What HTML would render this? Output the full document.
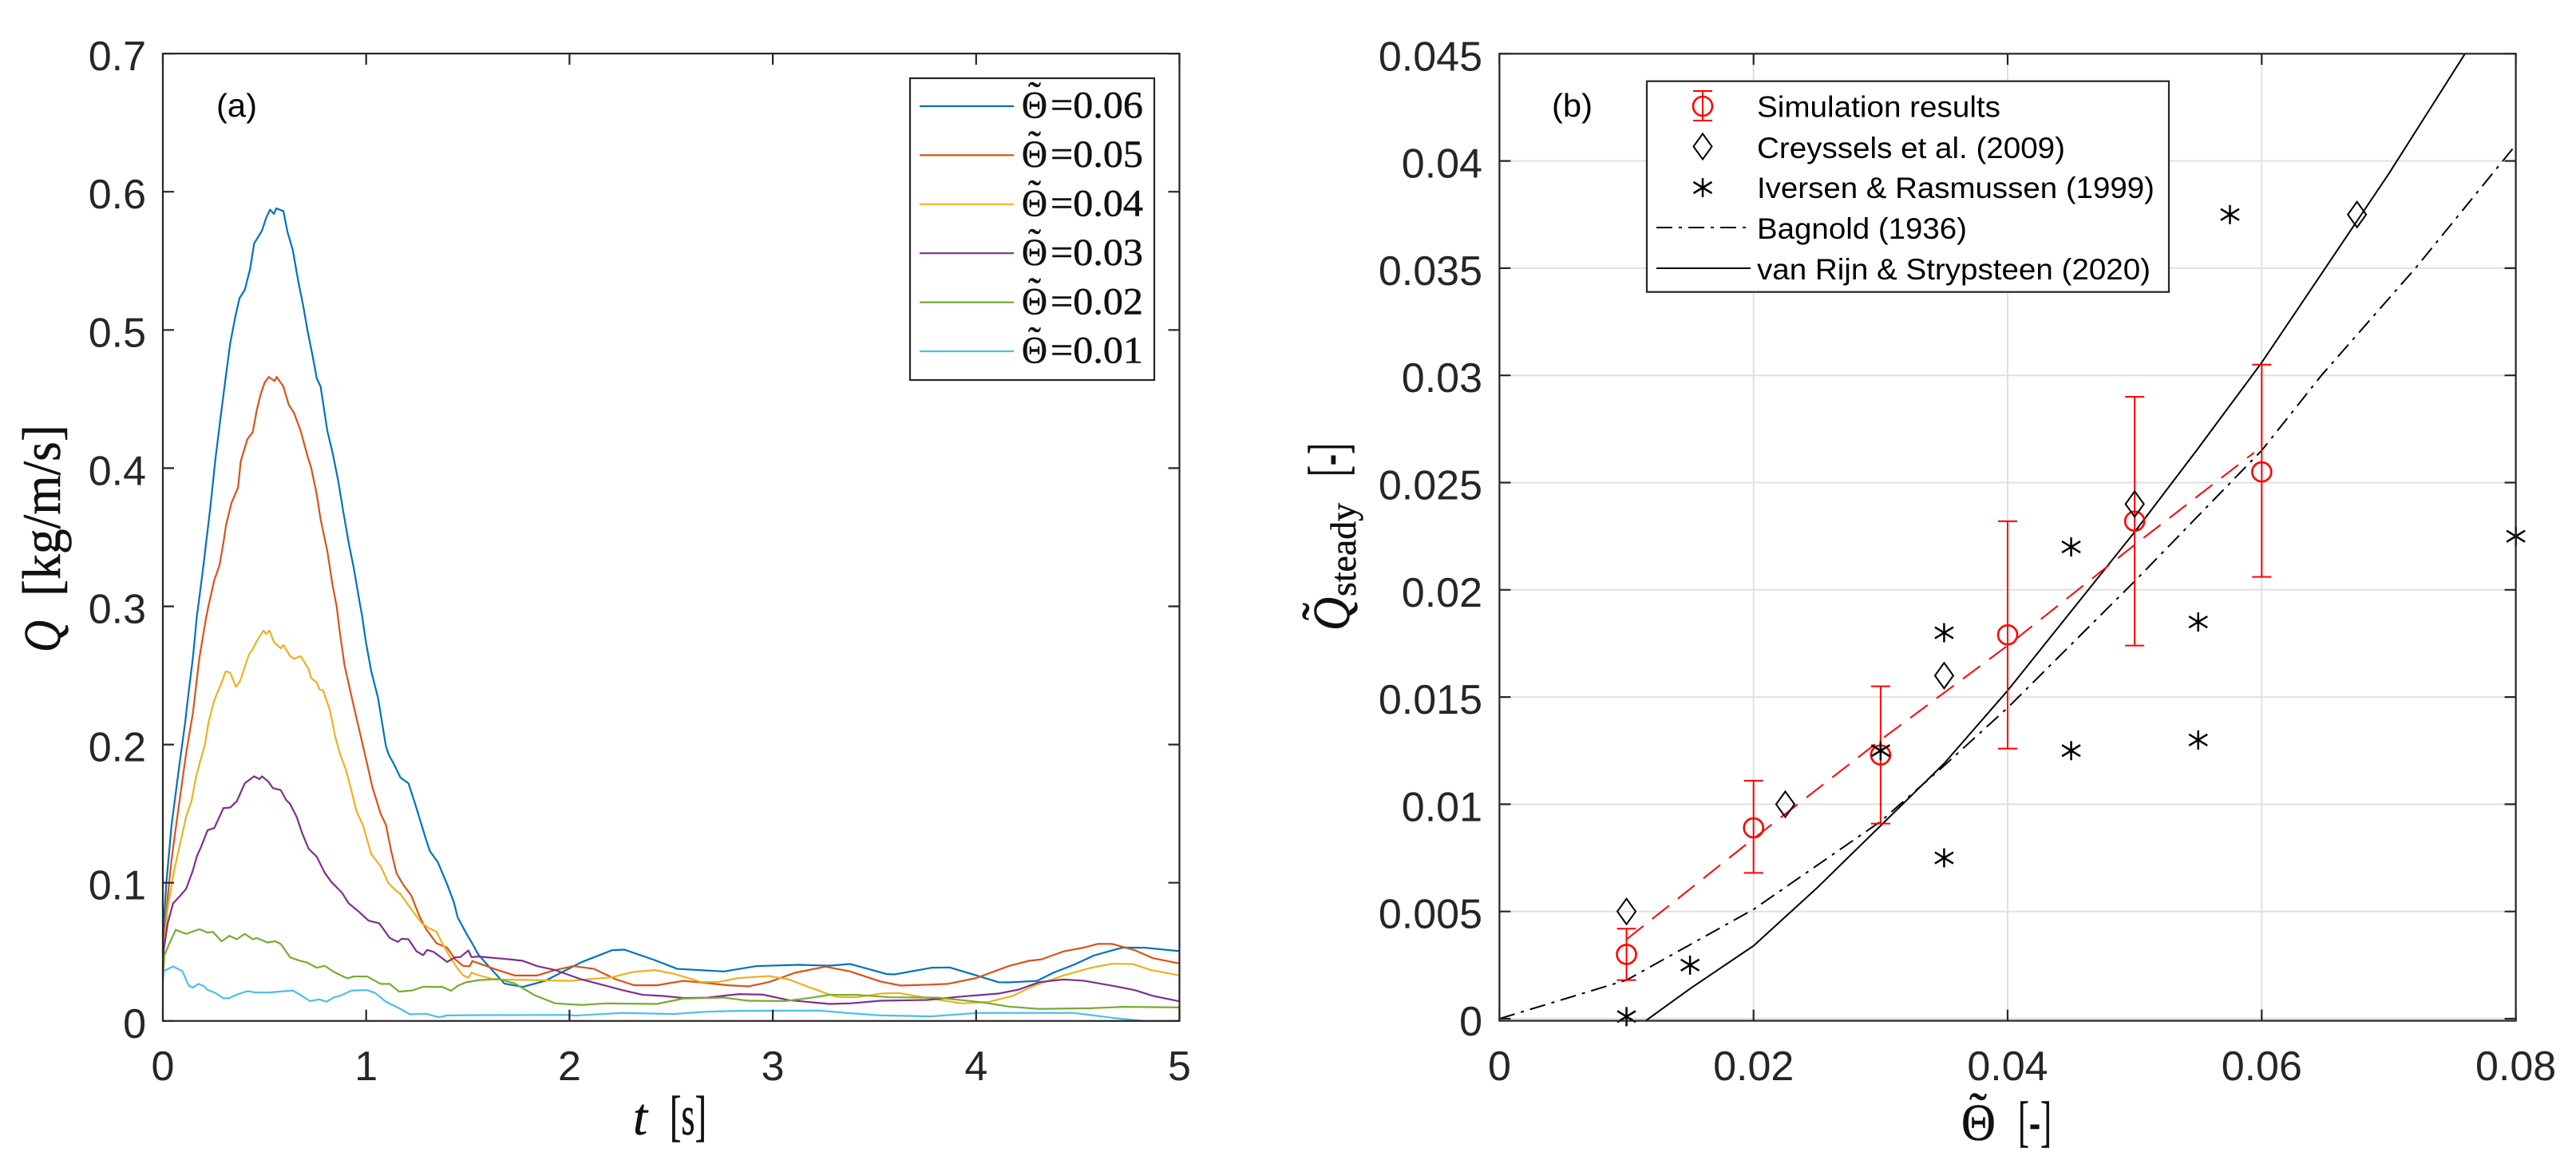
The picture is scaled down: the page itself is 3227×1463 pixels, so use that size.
<!DOCTYPE html>
<html>
<head>
<meta charset="utf-8">
<title>Sediment flux charts</title>
<style>
html,body{margin:0;padding:0;background:#fff;}
svg{display:block;}
text{fill:#262626;font-family:"Liberation Sans",sans-serif;}
.serif{font-family:"Liberation Serif",serif;fill:#111;stroke:#111;stroke-width:0.5px;}
.leg{font-size:37px;fill:#000;}
.tick{font-size:52px;}
</style>
</head>
<body>
<svg id="figure" xmlns="http://www.w3.org/2000/svg" width="3227" height="1463" viewBox="0 0 3227 1463">
  <g id="panel-a"></g>
  <g id="panel-b"></g>

  <text x="271" y="146" font-size="41" style="fill:#000" textLength="51" lengthAdjust="spacingAndGlyphs">(a)</text>
  <text x="1944" y="146" font-size="41" style="fill:#000" textLength="51" lengthAdjust="spacingAndGlyphs">(b)</text>

  <text class="serif" x="793" y="1421" font-size="66" font-style="italic" textLength="18" lengthAdjust="spacingAndGlyphs">t</text>
  <text class="serif" x="839" y="1421" font-size="70" textLength="46" lengthAdjust="spacingAndGlyphs">[s]</text>
  <text class="serif" transform="translate(75,817) rotate(-90)" font-size="66" font-style="italic" textLength="40" lengthAdjust="spacingAndGlyphs">Q</text>
  <text class="serif" transform="translate(75,747) rotate(-90)" font-size="68" textLength="215" lengthAdjust="spacingAndGlyphs">[kg/m/s]</text>

  <text class="serif" x="2457" y="1428" font-size="66" textLength="43" lengthAdjust="spacingAndGlyphs">Θ</text>
  <text class="serif" x="2467" y="1414" font-size="66">˜</text>
  <text class="serif" x="2528" y="1428" font-size="70" textLength="42" lengthAdjust="spacingAndGlyphs">[-]</text>
  <text class="serif" transform="translate(1690,790) rotate(-90)" font-size="66" font-style="italic" textLength="42" lengthAdjust="spacingAndGlyphs">Q</text>
  <text class="serif" transform="translate(1676,777) rotate(-90)" font-size="66">˜</text>
  <text class="serif" transform="translate(1698,747) rotate(-90)" font-size="45" textLength="117" lengthAdjust="spacingAndGlyphs">steady</text>
  <text class="serif" transform="translate(1687,597) rotate(-90)" font-size="70" textLength="42" lengthAdjust="spacingAndGlyphs">[-]</text>
</svg>

<script>
// ---------- Panel (a) data ----------
const tickTimes = [0, 1, 2, 3, 4, 5];
const tickTimeLabels = ['0', '1', '2', '3', '4', '5'];
const tickFlux = [0, 0.1, 0.2, 0.3, 0.4, 0.5, 0.6, 0.7];
const tickFluxLabels = ['0', '0.1', '0.2', '0.3', '0.4', '0.5', '0.6', '0.7'];
const seriesLabels = ['=0.06', '=0.05', '=0.04', '=0.03', '=0.02', '=0.01'];

const t06 = [0,.017,.043,.082,.109,.122,.148,.168,.174,.2,.233,.259,.285,.312,.331,.357,.377,.403,.429,.449,.488,.508,.527,.547,.558,.593,.613,.639,.665,.691,.711,.737,.757,.776,.809,.835,.861,.887,.914,.94,.969,.979,.999,1.025,1.058,1.097,1.11,1.136,1.169,1.208,1.241,1.293,1.313,1.352,1.398,1.431,1.45,1.49,1.522,1.552,1.6,1.68,1.77,1.88,2.06,2.21,2.27,2.41,2.53,2.76,2.92,3.13,3.28,3.38,3.56,3.6,3.78,3.87,4.0,4.11,4.16,4.30,4.38,4.48,4.58,4.72,4.83,5.0];
const q06 = [.06,.0995,.142,.186,.215,.232,.263,.294,.300,.33,.371,.407,.438,.469,.49,.51,.523,.529,.544,.5625,.572,.581,.587,.584,.588,.586,.571,.558,.536,.517,.5,.481,.465,.459,.427,.411,.392,.369,.346,.327,.302,.294,.274,.253,.234,.199,.193,.186,.176,.172,.157,.132,.123,.115,.099,.086,.075,.064,.056,.048,.04,.027,.0246,.029,.0426,.0512,.0516,.0445,.0377,.0358,.0397,.0406,.04,.0412,.0339,.0337,.0385,.0387,.033,.028,.0279,.029,.0349,.0406,.0474,.0531,.053,.0505];

const t05 = [0,.024,.043,.076,.115,.148,.18,.213,.224,.253,.279,.298,.311,.338,.37,.383,.416,.442,.462,.482,.501,.521,.55,.56,.593,.619,.645,.678,.711,.73,.757,.776,.809,.835,.855,.868,.894,.94,.986,1.031,1.071,1.097,1.123,1.149,1.182,1.221,1.26,1.293,1.346,1.398,1.437,1.476,1.509,1.522,1.552,1.63,1.73,1.84,1.93,2.02,2.12,2.23,2.32,2.43,2.56,2.63,2.78,2.88,2.98,3.11,3.26,3.38,3.53,3.63,3.76,3.86,4.0,4.16,4.26,4.32,4.43,4.53,4.6,4.67,4.78,4.87,5];
const q05 = [.0476,.09,.117,.153,.194,.223,.263,.292,.3,.319,.33,.346,.359,.375,.386,.405,.421,.426,.442,.454,.462,.466,.463,.466,.459,.446,.44,.427,.409,.4,.381,.363,.34,.315,.3,.284,.257,.227,.198,.169,.15,.142,.123,.107,.0986,.091,.0765,.0668,.0562,.053,.0447,.0399,.0395,.0433,.0418,.0377,.0329,.0329,.0368,.0397,.0377,.03,.0258,.0258,.029,.0281,.0258,.025,.0281,.0349,.0393,.0358,.0285,.0256,.0262,.0268,.031,.0397,.0435,.0445,.0503,.0531,.0558,.0557,.0512,.0454,.0416];

const t04 = [0,.024,.056,.082,.115,.141,.161,.18,.207,.226,.253,.292,.309,.331,.36,.38,.423,.442,.462,.495,.508,.524,.547,.58,.593,.626,.645,.678,.717,.73,.757,.77,.789,.822,.848,.874,.9,.927,.953,.986,1.025,1.071,1.11,1.143,1.169,1.215,1.274,1.306,1.346,1.378,1.411,1.45,1.476,1.503,1.518,1.552,1.63,1.78,2.0,2.21,2.31,2.42,2.52,2.65,2.73,2.83,2.98,3.08,3.18,3.31,3.41,3.53,3.62,3.76,3.93,4.06,4.18,4.28,4.43,4.56,4.67,4.77,4.86,5];
const q04 = [.042,.082,.109,.1265,.148,.159,.175,.186,.2,.217,.232,.246,.253,.252,.2417,.246,.265,.269,.275,.2825,.28,.2825,.274,.2696,.272,.264,.262,.264,.2546,.248,.245,.24,.239,.2247,.2055,.192,.182,.167,.1515,.141,.1207,.112,.0996,.0947,.0918,.0822,.0707,.0674,.0645,.0553,.0466,.0379,.0331,.0312,.035,.0331,.03,.0297,.029,.0316,.0354,.0368,.0339,.0281,.0281,.031,.0325,.03,.0243,.0175,.0171,.0198,.0202,.0166,.0127,.0137,.0181,.0252,.0329,.0383,.0414,.0412,.0368,.033];

const t03 = [0,.004,.024,.05,.082,.115,.148,.167,.187,.22,.253,.298,.331,.364,.403,.449,.475,.488,.52,.541,.58,.606,.626,.658,.685,.717,.757,.796,.829,.881,.914,.959,1.012,1.064,1.116,1.156,1.175,1.208,1.247,1.28,1.30,1.332,1.398,1.437,1.463,1.503,1.518,1.552,1.71,1.77,1.84,1.93,2.06,2.16,2.26,2.36,2.46,2.56,2.68,2.83,2.95,3.08,3.28,3.38,3.53,3.76,3.93,4.11,4.21,4.31,4.43,4.53,4.68,4.78,4.87,5];
const q03 = [.034,.051,.0707,.085,.09,.0957,.109,.119,.1256,.138,.1396,.154,.1544,.159,.172,.177,.175,.177,.173,.1685,.167,.16,.157,.1477,.136,.1246,.1188,.1073,.1005,.0928,.0851,.0797,.0726,.0707,.06,.0572,.0595,.0591,.0505,.0476,.0514,.0499,.0427,.046,.0462,.051,.0462,.0466,.0445,.0435,.0397,.0368,.03,.0262,.0223,.0189,.0181,.0166,.0169,.0194,.0191,.015,.0123,.0127,.0146,.0152,.0177,.0198,.0227,.0281,.03,.0291,.0252,.0223,.0181,.0142];

const t02 = [0,.008,.03,.063,.115,.18,.22,.246,.289,.327,.364,.403,.442,.462,.514,.554,.58,.626,.671,.711,.757,.796,.842,.907,.94,1.005,1.071,1.116,1.162,1.228,1.28,1.346,1.372,1.418,1.45,1.49,1.552,1.65,1.73,1.83,1.93,2.06,2.18,2.43,2.56,2.76,2.88,3.06,3.18,3.28,3.41,3.58,3.81,4.03,4.16,4.31,4.56,4.73,5];
const q02 = [.03,.0476,.0553,.0659,.063,.0664,.0639,.0645,.0576,.0616,.0591,.063,.0591,.06,.0568,.0576,.0557,.046,.0437,.0422,.0385,.0399,.0354,.0308,.0322,.0322,.0268,.0268,.0212,.0221,.0248,.0245,.0248,.0218,.0254,.0279,.0295,.0304,.0272,.0185,.0127,.0116,.0127,.0123,.0162,.0169,.0146,.0144,.0166,.0189,.0189,.0171,.0169,.0135,.0104,.0087,.0092,.0102,.0098];

const t01 = [0,.004,.05,.096,.128,.148,.174,.2,.22,.259,.298,.325,.364,.416,.455,.521,.639,.678,.724,.77,.806,.842,.874,.927,1.005,1.045,1.097,1.169,1.215,1.293,1.359,1.398,1.552,1.98,2.03,2.26,2.51,2.68,2.83,3.23,3.36,3.53,3.78,4.01,4.48,4.68,4.83,5];
const q01 = [.0273,.036,.0395,.036,.0254,.0241,.0268,.0254,.0225,.0202,.0164,.0164,.0191,.0216,.0206,.0206,.022,.0187,.0144,.0156,.0139,.0171,.0183,.022,.0223,.0202,.0139,.0087,.0048,.0052,.0027,.004,.0042,.0044,.0039,.0058,.005,.0067,.0073,.0075,.0058,.004,.0033,.0058,.0058,.0021,0,0];

// ---------- Panel (b) data ----------
const tickShields = [0, 0.02, 0.04, 0.06, 0.08];
const tickShieldsLabels = ['0', '0.02', '0.04', '0.06', '0.08'];
const tickSteady = [0, 0.005, 0.01, 0.015, 0.02, 0.025, 0.03, 0.035, 0.04, 0.045];
const tickSteadyLabels = ['0', '0.005', '0.01', '0.015', '0.02', '0.025', '0.03', '0.035', '0.04', '0.045'];

const simX = [0.01, 0.02, 0.03, 0.04, 0.05, 0.06];
const simY = [0.003, 0.0089, 0.0123, 0.0179, 0.0232, 0.0255];
const simUpper = [0.0042, 0.0111, 0.0155, 0.0232, 0.029, 0.0305];
const simLower = [0.0018, 0.0068, 0.0091, 0.0126, 0.0174, 0.0206];

const fitX = [0.01, 0.02, 0.03, 0.04, 0.05, 0.0594];
const fitY = [0.0037, 0.0084, 0.013, 0.0174, 0.0221, 0.0264];

const creysselsX = [0.01, 0.0225, 0.035, 0.05, 0.0675];
const creysselsY = [0.005, 0.01, 0.016, 0.024, 0.0375];

const iversenX = [0.01, 0.015, 0.03, 0.035, 0.035, 0.045, 0.045, 0.055, 0.055, 0.0575, 0.08];
const iversenY = [0.0001, 0.0025, 0.0125, 0.0075, 0.018, 0.0125, 0.022, 0.013, 0.0185, 0.0375, 0.0225];

const bagnoldX = [0, 0.01, 0.02, 0.03, 0.035, 0.04, 0.05, 0.06, 0.0647, 0.0721, 0.0798];
const bagnoldY = [0, 0.0018, 0.0051, 0.0092, 0.0118, 0.0145, 0.0204, 0.0265, 0.03, 0.035, 0.0406];

const vanRijnX = [0.0115, 0.015, 0.02, 0.025, 0.03, 0.035, 0.04, 0.045, 0.05, 0.055, 0.06, 0.065, 0.0675, 0.07, 0.076];
const vanRijnY = [-0.0001, 0.0014, 0.0034, 0.0061, 0.009, 0.0119, 0.0153, 0.019, 0.0227, 0.0266, 0.0306, 0.035, 0.0372, 0.0394, 0.045];

const legendEntriesB = ['Simulation results', 'Creyssels et al. (2009)', 'Iversen & Rasmussen (1999)', 'Bagnold (1936)', 'van Rijn & Strypsteen (2020)'];

// ---------- Helpers ----------
const NS = 'http://www.w3.org/2000/svg';
function mk(parent, tag, attrs) {
  const el = document.createElementNS(NS, tag);
  for (const k in attrs) el.setAttribute(k, attrs[k]);
  parent.appendChild(el);
  return el;
}
const AXIS = '#262626', GRID = '#e0e0e0';

// Axis functions
const xA = t => 204 + 254.7 * t;
const yA = q => 1278.8 - 1731 * q;
const xB = v => 1878.4 + 15915 * v;
const yB = v => 1276 - 26860 * v;

const pathOf = (xs, ys, fx, fy) => xs.map((x, i) => (i ? 'L' : 'M') + fx(x).toFixed(2) + ' ' + fy(ys[i]).toFixed(2)).join('');

// ---------- Panel (a) ----------
const gA = document.getElementById('panel-a');
const aL = xA(0), aR = xA(5), aT = yA(0.7), aB = yA(0);

const seriesA = [
  { t: t06, q: q06, c: '#0072BD' },
  { t: t05, q: q05, c: '#D95319' },
  { t: t04, q: q04, c: '#EDB120' },
  { t: t03, q: q03, c: '#7E2F8E' },
  { t: t02, q: q02, c: '#77AC30' },
  { t: t01, q: q01, c: '#4DBEEE' }
];

seriesA.forEach(function (s) {
  const line = mk(gA, 'path', { d: pathOf(s.t, s.q, xA, yA), fill: 'none', stroke: s.c, 'stroke-width': 2.2, 'stroke-linejoin': 'round' });
  
  
});

const frameA = mk(gA, 'rect', { x: aL, y: aT, width: aR - aL, height: aB - aT, fill: 'none', stroke: AXIS, 'stroke-width': 2.2 });



tickTimes.forEach(function (v, i) {
  const x = xA(v);
  const tick = mk(gA, 'path', { d: 'M' + x + ' ' + aB + 'v-14M' + x + ' ' + aT + 'v14', stroke: AXIS, 'stroke-width': 2.2, fill: 'none' });
  
  
  const label = mk(gA, 'text', { x: x, y: 1353, 'text-anchor': 'middle', class: 'tick' });
  
  
  label.textContent = tickTimeLabels[i];
});

tickFlux.forEach(function (v, i) {
  const y = yA(v);
  const tick = mk(gA, 'path', { d: 'M' + aL + ' ' + y + 'h14M' + aR + ' ' + y + 'h-14', stroke: AXIS, 'stroke-width': 2.2, fill: 'none' });
  
  
  const label = mk(gA, 'text', { x: 183, y: y + 21, 'text-anchor': 'end', class: 'tick' });
  
  
  label.textContent = tickFluxLabels[i];
});

// Legend (a)
const legA = mk(gA, 'g', {});


const legABox = mk(legA, 'rect', { x: 1140, y: 98, width: 306, height: 378, fill: '#fff', stroke: AXIS, 'stroke-width': 2.2 });


seriesLabels.forEach(function (lab, i) {
  const rowY = 133 + i * 61.4;
  const swatch = mk(legA, 'line', { x1: 1152, x2: 1270, y1: rowY, y2: rowY, stroke: seriesA[i].c, 'stroke-width': 2.2 });
  
  
  const theta = mk(legA, 'text', { x: 1280, y: rowY + 14.7, 'font-size': 48, class: 'serif', textLength: 32, lengthAdjust: 'spacingAndGlyphs' });
  
  
  theta.textContent = 'Θ';
  const tilde = mk(legA, 'text', { x: 1288, y: rowY + 2, 'font-size': 48, class: 'serif' });
  
  
  tilde.textContent = '˜';
  const txt = mk(legA, 'text', { x: 1316, y: rowY + 14.7, 'font-size': 48, class: 'serif', textLength: 116, lengthAdjust: 'spacingAndGlyphs' });
  
  
  txt.textContent = lab;
});

// ---------- Panel (b) ----------
const gB = document.getElementById('panel-b');
const bL = xB(0), bR = xB(0.08), bT = yB(0.045), bB = 1278.6;

// Grid
tickShields.forEach(function (v) {
  const g = mk(gB, 'line', { x1: xB(v), x2: xB(v), y1: bT, y2: bB, stroke: GRID, 'stroke-width': 2 });
  
  
});
tickSteady.forEach(function (v) {
  const g = mk(gB, 'line', { x1: bL, x2: bR, y1: yB(v), y2: yB(v), stroke: GRID, 'stroke-width': 2 });
  
  
});

const bagnoldLine = mk(gB, 'path', { d: pathOf(bagnoldX, bagnoldY, xB, yB), fill: 'none', stroke: '#000', 'stroke-width': 2, 'stroke-dasharray': '20 8 4 8' });



const vanRijnLine = mk(gB, 'path', { d: pathOf(vanRijnX, vanRijnY, xB, yB), fill: 'none', stroke: '#000', 'stroke-width': 2 });



const fitLine = mk(gB, 'path', { d: pathOf(fitX, fitY, xB, yB), fill: 'none', stroke: '#f00', 'stroke-width': 2, 'stroke-dasharray': '27 14' });



function drawErrorMarker(parent, x, yMid, yUp, yLow) {
  const bar = mk(parent, 'path', { d: 'M' + x + ' ' + yUp + 'V' + yLow + 'M' + (x - 12) + ' ' + yUp + 'h24M' + (x - 12) + ' ' + yLow + 'h24', stroke: '#f00', 'stroke-width': 2, fill: 'none' });
  
  
  const circ = mk(parent, 'circle', { cx: x, cy: yMid, r: 12, fill: 'none', stroke: '#f00', 'stroke-width': 2.6 });
  
  
}
function drawDiamond(parent, x, y) {
  const d = mk(parent, 'path', { d: 'M' + x + ' ' + (y - 16) + 'l11.5 16l-11.5 16l-11.5 -16z', fill: 'none', stroke: '#000', 'stroke-width': 2 });
  
  
}
function drawStar(parent, x, y) {
  const s = mk(parent, 'path', { d: 'M' + x + ' ' + (y - 12) + 'v24M' + (x - 11.5) + ' ' + (y - 7) + 'l23 14M' + (x - 11.5) + ' ' + (y + 7) + 'l23 -14', fill: 'none', stroke: '#000', 'stroke-width': 2.5 });
  
  
}

simX.forEach(function (v, i) {
  drawErrorMarker(gB, xB(v), yB(simY[i]), yB(simUpper[i]), yB(simLower[i]));
});
creysselsX.forEach(function (v, i) { drawDiamond(gB, xB(v), yB(creysselsY[i])); });
iversenX.forEach(function (v, i) { drawStar(gB, xB(v), yB(iversenY[i])); });

const frameB = mk(gB, 'rect', { x: bL, y: bT, width: bR - bL, height: bB - bT, fill: 'none', stroke: AXIS, 'stroke-width': 2.2 });



tickShields.forEach(function (v, i) {
  const x = xB(v);
  const tick = mk(gB, 'path', { d: 'M' + x + ' ' + bB + 'v-14M' + x + ' ' + bT + 'v14', stroke: AXIS, 'stroke-width': 2.2, fill: 'none' });
  
  
  const label = mk(gB, 'text', { x: x, y: 1353, 'text-anchor': 'middle', class: 'tick' });
  
  
  label.textContent = tickShieldsLabels[i];
});

tickSteady.forEach(function (v, i) {
  const y = yB(v);
  const tick = mk(gB, 'path', { d: 'M' + bL + ' ' + y + 'h14M' + bR + ' ' + y + 'h-14', stroke: AXIS, 'stroke-width': 2.2, fill: 'none' });
  
  
  const label = mk(gB, 'text', { x: 1857, y: y + 21, 'text-anchor': 'end', class: 'tick' });
  
  
  label.textContent = tickSteadyLabels[i];
});

// Legend (b)
const legB = mk(gB, 'g', {});


const legBBox = mk(legB, 'rect', { x: 2063, y: 101.7, width: 654, height: 264, fill: '#fff', stroke: AXIS, 'stroke-width': 2.2 });



drawErrorMarker(legB, 2133, 133, 114, 151);
drawDiamond(legB, 2133, 183.5);
drawStar(legB, 2133, 235);

const legBagnold = mk(legB, 'line', { x1: 2075, x2: 2193, y1: 285, y2: 285, stroke: '#000', 'stroke-width': 2, 'stroke-dasharray': '20 8 4 8' });


const legVanRijn = mk(legB, 'line', { x1: 2075, x2: 2193, y1: 336, y2: 336, stroke: '#000', 'stroke-width': 2 });



const legWidths = [305, 386, 498, 263, 493];
const legBaselines = [146.7, 198, 248, 299, 350];
legendEntriesB.forEach(function (lab, i) {
  const txt = mk(legB, 'text', { x: 2201, y: legBaselines[i], class: 'leg', textLength: legWidths[i], lengthAdjust: 'spacingAndGlyphs' });
  
  
  txt.textContent = lab;
});
</script>
</body>
</html>
